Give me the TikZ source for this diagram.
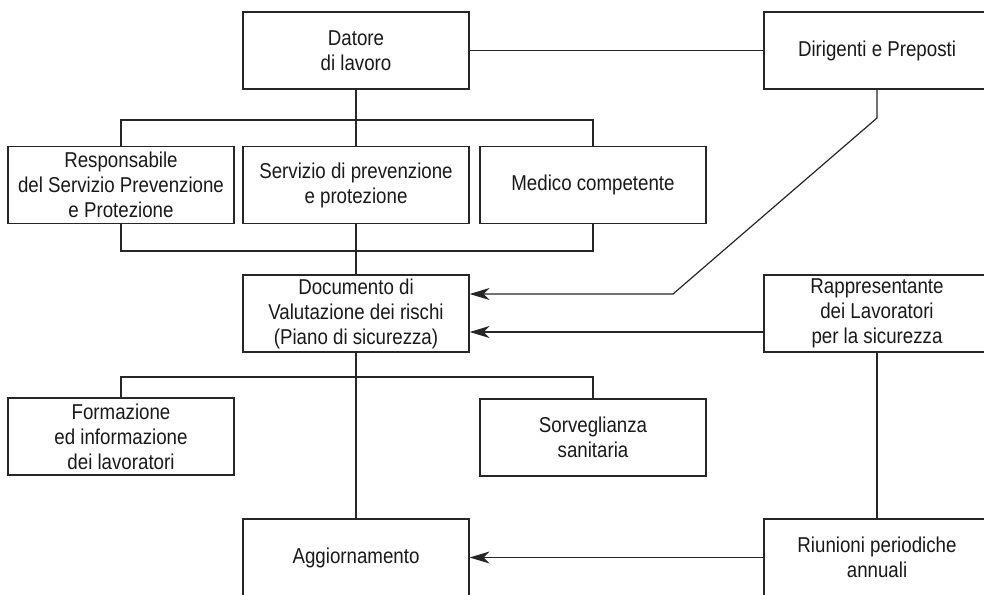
\documentclass[tikz,border=0pt]{standalone}
\usepackage{fontspec}
\setmainfont[FakeStretch=0.87]{Liberation Sans}
\usetikzlibrary{arrows.meta}
\begin{document}
\begin{tikzpicture}[x=1pt,y=-1pt,
  box/.style={draw=black!85,line width=1.2pt,rectangle,minimum width=226pt,minimum height=77pt,
    inner sep=0pt,align=center,font=\fontsize{21.5}{25}\selectfont,text=black!90},
  conn/.style={draw=black!85,line width=1.2pt},
  arr/.style={conn,-{Stealth[length=20pt,width=12pt,inset=6pt]}}]
\useasboundingbox (0,0) rectangle (984,594);
\clip (0,0) rectangle (984,594);
\node[box] (dat) at (356,50.5) {Datore\\di lavoro};
\node[box] (dir) at (877,50.5) {Dirigenti e Preposti};
\node[box] (rsp) at (121,185) {Responsabile\\del Servizio Prevenzione\\e Protezione};
\node[box] (spp) at (356,185) {Servizio di prevenzione\\e protezione};
\node[box] (med) at (593,185) {Medico competente};
\node[box] (doc) at (356,313.5) {Documento di\\Valutazione dei rischi\\(Piano di sicurezza)};
\node[box] (rap) at (877,313.5) {Rappresentante\\dei Lavoratori\\per la sicurezza};
\node[box] (for) at (121,436.5) {Formazione\\ed informazione\\dei lavoratori};
\node[box] (sor) at (593,437.5) {Sorveglianza\\sanitaria};
\node[box] (agg) at (356,557.5) {Aggiornamento};
\node[box] (riu) at (877,557.5) {Riunioni periodiche\\annuali};
\coordinate (busA) at (356,120);
\coordinate (busB) at (356,251);
\coordinate (busC) at (356,377);
\coordinate (k1) at (877,118);
\coordinate (k2) at (673,294);
\coordinate (a2) at (700,332);
\draw[conn] (dat.east) -- (dir.west);
\draw[conn] (dat.south) -- (spp.north);
\draw[conn] (rsp.north) |- (busA) -| (med.north);
\draw[conn] (rsp.south) |- (busB) -| (med.south);
\draw[conn] (spp.south) -- (doc.north);
\draw[conn] (for.north) |- (busC) -| (sor.north);
\draw[conn] (doc.south) -- (agg.north);
\draw[arr] (dir.south) -- (k1) -- (k2) -- (k2 -| doc.east);
\draw[arr] (rap.west |- a2) -- (doc.east |- a2);
\draw[conn] (rap.south) -- (riu.north);
\draw[arr] (riu.west) -- (agg.east);
\end{tikzpicture}
\end{document}
